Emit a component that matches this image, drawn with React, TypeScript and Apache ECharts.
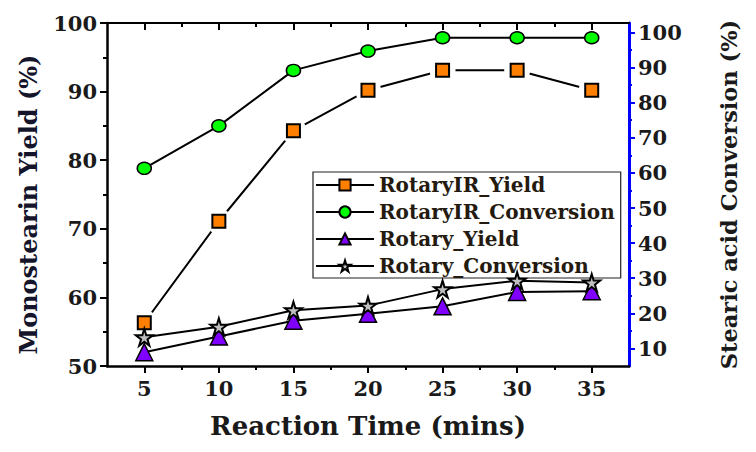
import React, { useEffect, useRef } from "react";
import * as echarts from "echarts";

const times = [5, 10, 15, 20, 25, 30, 35];
const rotaryIRYield = [56.3, 71.1, 84.3, 90.2, 93.1, 93.1, 90.2];
const rotaryIRConversion = [61.3, 73.4, 89.2, 94.7, 98.5, 98.5, 98.5];
const rotaryYield = [52.0, 54.3, 56.6, 57.6, 58.7, 60.8, 60.9];
const rotaryConversion = [13.2, 16.2, 20.9, 22.2, 26.9, 29.3, 28.8];

const xMajorTicks = [5, 10, 15, 20, 25, 30, 35];
const xMinorTicks = [7.5, 12.5, 17.5, 22.5, 27.5, 32.5];
const rightMajorTicks = [10, 20, 30, 40, 50, 60, 70, 80, 90, 100];
const rightMinorTicks = [15, 25, 35, 45, 55, 65, 75, 85, 95];

const FONT = "'DejaVu Serif', 'Liberation Serif', serif";
const TXT = "#1a1a1a";
const STAR =
  "path://M50,0 L61,35 L98,35 L68,57 L79,91 L50,70 L21,91 L32,57 L2,35 L39,35 Z";

const pairs = (vals: number[]) => times.map((t, i) => [t, vals[i]]);

export default function App() {
  const ref = useRef<HTMLDivElement>(null);
  useEffect(() => {
    if (!ref.current) return;
    const chart = echarts.init(ref.current, undefined, { renderer: "svg" });
    const xBase = {
      type: "value" as const,
      min: 2.5,
      max: 37.5,
      splitLine: { show: false },
    };
    const option: any = {
      animation: false,
      backgroundColor: "#fff",
      grid: { left: 93, right: 95, top: 15, bottom: 64, containLabel: false },
      legend: {
        orient: "vertical",
        left: 305,
        top: 164,
        data: ["RotaryIR_Yield", "RotaryIR_Conversion", "Rotary_Yield", "Rotary_Conversion"],
        itemWidth: 58,
        itemHeight: 14,
        itemGap: 7,
        padding: [3, 6, 2, 2],
        borderColor: "#222",
        borderWidth: 1.2,
        backgroundColor: "#fff",
        textStyle: { fontFamily: FONT, fontWeight: "bold", fontSize: 20, color: "#241a10" },
      },
      xAxis: [
        {
          ...xBase,
          position: "bottom",
          name: "Reaction Time (mins)",
          nameLocation: "middle",
          nameGap: 47,
          nameTextStyle: { fontFamily: FONT, fontWeight: "bold", fontSize: 26, color: TXT },
          axisLine: { show: true, lineStyle: { color: "#000", width: 2.5 } },
          axisTick: { show: true, customValues: xMajorTicks, length: 7, lineStyle: { width: 2, color: "#000" } },
          axisLabel: { customValues: xMajorTicks, fontFamily: FONT, fontWeight: "bold", fontSize: 21, color: TXT, margin: 12 },
        },
        {
          ...xBase,
          position: "bottom",
          axisLine: { show: false },
          axisTick: { show: true, customValues: xMinorTicks, length: 4, lineStyle: { width: 2, color: "#000" } },
          axisLabel: { show: false },
        },
        {
          ...xBase,
          position: "top",
          axisLine: { show: true, lineStyle: { color: "#000", width: 2 } },
          axisTick: { show: true, inside: true, customValues: xMajorTicks, length: 7, lineStyle: { width: 2, color: "#000" } },
          axisLabel: { show: false },
        },
        {
          ...xBase,
          position: "top",
          axisLine: { show: false },
          axisTick: { show: true, inside: true, customValues: xMinorTicks, length: 4, lineStyle: { width: 2, color: "#000" } },
          axisLabel: { show: false },
        },
      ],
      yAxis: [
        {
          type: "value",
          position: "left",
          min: 50,
          max: 100,
          interval: 10,
          name: "Monostearin Yield (%)",
          nameLocation: "middle",
          nameGap: 67,
          nameTextStyle: { fontFamily: FONT, fontWeight: "bold", fontSize: 24, color: "#14142a", padding: [0, 20, 0, 0] },
          splitLine: { show: false },
          axisLine: { show: true, lineStyle: { color: "#000", width: 2.5 } },
          axisTick: { show: true, length: 7, lineStyle: { width: 2, color: "#000" } },
          minorTick: { show: true, splitNumber: 2, length: 4, lineStyle: { width: 2, color: "#000" } },
          axisLabel: { fontFamily: FONT, fontWeight: "bold", fontSize: 21, color: TXT, margin: 10 },
        },
        {
          type: "value",
          position: "right",
          min: 5,
          max: 102.7,
          name: "Stearic acid Conversion (%)",
          nameLocation: "middle",
          nameGap: 88,
          nameRotate: 90,
          nameTextStyle: { fontFamily: FONT, fontWeight: "bold", fontSize: 22.5, color: TXT },
          splitLine: { show: false },
          axisLine: { show: true, lineStyle: { color: "#0000ff", width: 3 } },
          axisTick: { show: true, customValues: rightMajorTicks, length: 6, lineStyle: { width: 2, color: "#0000ff" } },
          axisLabel: { customValues: rightMajorTicks, fontFamily: FONT, fontWeight: "bold", fontSize: 21, color: TXT, margin: 9 },
        },
        {
          type: "value",
          position: "right",
          min: 5,
          max: 102.7,
          splitLine: { show: false },
          axisLine: { show: false },
          axisTick: { show: true, customValues: rightMinorTicks, length: 3, lineStyle: { width: 2, color: "#0000ff" } },
          axisLabel: { show: false },
        },
      ],
      series: [
        {
          name: "RotaryIR_Yield",
          type: "line",
          xAxisIndex: 0,
          yAxisIndex: 0,
          data: pairs(rotaryIRYield),
          z: 2,
          symbol: "rect",
          symbolSize: 13,
          lineStyle: { color: "#000", width: 2 },
          itemStyle: { color: "#ff8000", borderColor: "#000", borderWidth: 2 },
        },
        {
          name: "halo",
          type: "scatter",
          xAxisIndex: 0,
          yAxisIndex: 0,
          data: pairs(rotaryIRYield),
          z: 3,
          symbol: "circle",
          symbolSize: 26,
          silent: true,
          itemStyle: { color: "#fff", opacity: 1 },
        },
        {
          name: "RotaryIR_Yield_marks",
          type: "scatter",
          xAxisIndex: 0,
          yAxisIndex: 0,
          data: pairs(rotaryIRYield),
          z: 4,
          symbol: "rect",
          symbolSize: 13,
          itemStyle: { color: "#ff8000", borderColor: "#000", borderWidth: 2, opacity: 1 },
        },
        {
          name: "RotaryIR_Conversion",
          type: "line",
          xAxisIndex: 0,
          yAxisIndex: 1,
          data: pairs(rotaryIRConversion),
          z: 5,
          symbol: "circle",
          symbolSize: [14, 12],
          lineStyle: { color: "#000", width: 2 },
          itemStyle: { color: "#00ff00", borderColor: "#000", borderWidth: 1.5 },
        },
        {
          name: "Rotary_Yield",
          type: "line",
          xAxisIndex: 0,
          yAxisIndex: 0,
          data: pairs(rotaryYield),
          z: 5,
          symbol: "triangle",
          symbolSize: 17,
          lineStyle: { color: "#000", width: 2 },
          itemStyle: { color: "#8000ff", borderColor: "#000", borderWidth: 1.5 },
        },
        {
          name: "Rotary_Conversion",
          type: "line",
          xAxisIndex: 0,
          yAxisIndex: 1,
          data: pairs(rotaryConversion),
          z: 5,
          symbol: STAR,
          symbolSize: 17,
          lineStyle: { color: "#000", width: 2 },
          itemStyle: { color: "#c0c0c0", borderColor: "#000", borderWidth: 2 },
        },
      ],
    };
    chart.setOption(option);
    return () => chart.dispose();
  }, []);
  return <div ref={ref} style={{ width: 740, height: 436 }} />;
}
